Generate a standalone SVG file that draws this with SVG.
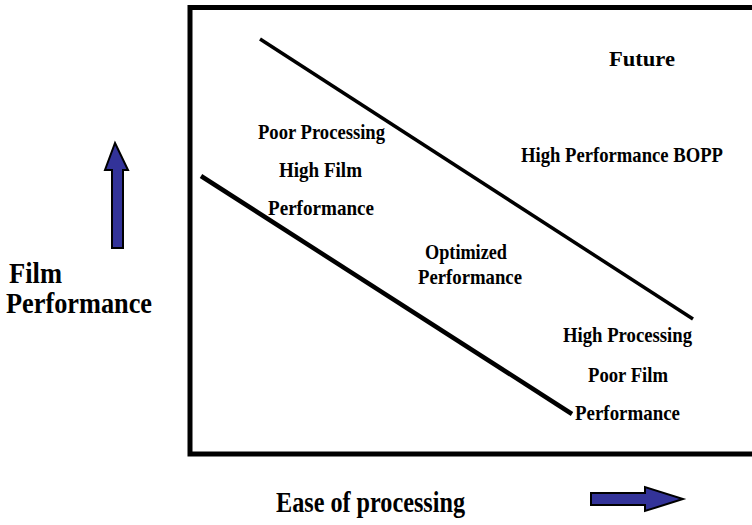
<svg xmlns="http://www.w3.org/2000/svg" width="752" height="525" viewBox="0 0 752 525">
<style>
  text { font-family: "Liberation Serif", "Times New Roman", serif; font-weight: bold; fill: #000; }
  .s { font-size: 21px; }
  .l { font-size: 29px; }
  .arrow { fill: #333399; stroke: #000; stroke-width: 2; stroke-linejoin: miter; }
</style>
<rect width="752" height="525" fill="#fff"/>
<g id="frame">
  <rect x="190" y="7.5" width="580" height="446.5" fill="none" stroke="#000" stroke-width="5"/>
</g>
<g id="connectors">
  <line x1="260" y1="39" x2="693" y2="319" stroke="#000" stroke-width="3.5"/>
  <line x1="201" y1="176" x2="572" y2="414" stroke="#000" stroke-width="4.5"/>
</g>
<g id="up-arrow">
  <polygon class="arrow" points="115,143 128,170 123,170 123,248 112,248 112,170 105,170"/>
</g>
<g id="right-arrow">
  <polygon class="arrow" points="591,493 645,493 645,487 683,499 645,511 645,505 591,505"/>
</g>
<g id="label-future"><text class="s" x="609" y="66" textLength="66" lengthAdjust="spacingAndGlyphs">Future</text></g>
<g id="label-poor-processing">
  <text class="s" x="258" y="139" textLength="127" lengthAdjust="spacingAndGlyphs">Poor Processing</text>
  <text class="s" x="279" y="177" textLength="83" lengthAdjust="spacingAndGlyphs">High Film</text>
  <text class="s" x="268" y="215" textLength="106" lengthAdjust="spacingAndGlyphs">Performance</text>
</g>
<g id="label-bopp"><text class="s" x="521" y="162" textLength="202" lengthAdjust="spacingAndGlyphs">High Performance BOPP</text></g>
<g id="label-optimized">
  <text class="s" x="425" y="259" textLength="82" lengthAdjust="spacingAndGlyphs">Optimized</text>
  <text class="s" x="418" y="284" textLength="104" lengthAdjust="spacingAndGlyphs">Performance</text>
</g>
<g id="label-high-processing">
  <text class="s" x="563" y="342" textLength="129" lengthAdjust="spacingAndGlyphs">High Processing</text>
  <text class="s" x="588" y="382" textLength="80" lengthAdjust="spacingAndGlyphs">Poor Film</text>
  <text class="s" x="575" y="420" textLength="105" lengthAdjust="spacingAndGlyphs">Performance</text>
</g>
<g id="label-film-performance">
  <text class="l" x="9" y="283" textLength="53" lengthAdjust="spacingAndGlyphs">Film</text>
  <text class="l" x="6" y="313" textLength="146" lengthAdjust="spacingAndGlyphs">Performance</text>
</g>
<g id="label-ease"><text class="l" x="276" y="512" textLength="189" lengthAdjust="spacingAndGlyphs">Ease of processing</text></g>
</svg>
